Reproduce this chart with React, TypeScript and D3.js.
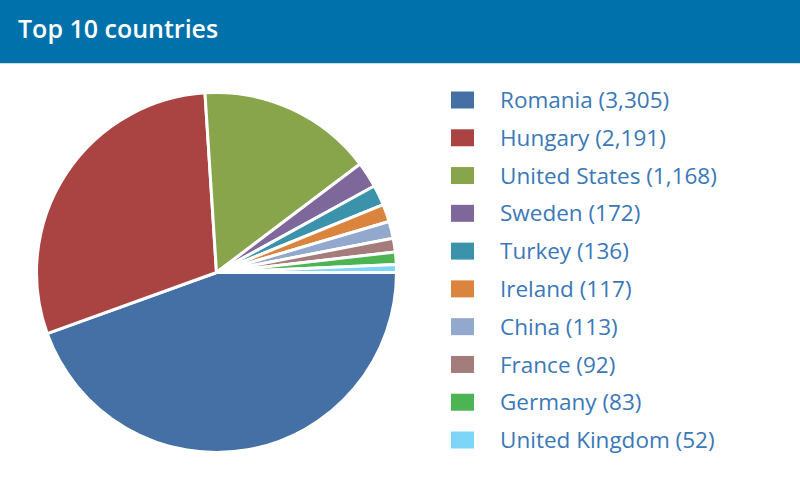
import React from 'react';
import * as d3 from 'd3';

const countries = ['Romania', 'Hungary', 'United States', 'Sweden', 'Turkey', 'Ireland', 'China', 'France', 'Germany', 'United Kingdom'];
const visitors = [3305, 2191, 1168, 172, 136, 117, 113, 92, 83, 52];
const sliceColors = ['#4470a6', '#a94442', '#88a54c', '#7e679b', '#3a93ab', '#db843d', '#92a8cd', '#a37c7b', '#4db453', '#7dd5f8'];

const W = 800;
const H = 504;
const HEADER_H = 63;

interface Slice {
    name: string;
    value: number;
    color: string;
}

const slices: Slice[] = countries.map((name, i) => ({ name, value: visitors[i], color: sliceColors[i] }));

export default function App() {
    const cx = 216.5;
    const cy = 272.5;
    const radius = 180;

    // pie starts at 3 o'clock, runs clockwise, keeps the data order
    const pie = d3.pie<Slice>()
        .value(d => d.value)
        .sort(null)
        .startAngle(Math.PI / 2)
        .endAngle(Math.PI / 2 + 2 * Math.PI);
    const arc = d3.arc<d3.PieArcDatum<Slice>>().innerRadius(0).outerRadius(radius);
    const arcs = pie(slices);

    // legend rows
    const legendY = d3.scalePoint<string>().domain(countries).range([100, 440]);
    const fmt = d3.format(',');

    return (
        <svg width={W} height={H} style={{ position: 'absolute', left: 0, top: 0, background: '#fff' }}>
            <rect x={0} y={0} width={W} height={HEADER_H} fill="#0071aa" />
            <line x1={0} x2={W} y1={HEADER_H + 0.5} y2={HEADER_H + 0.5} stroke="#c9dbe8" strokeWidth={1} />
            <text x={18} y={38} fill="#fff" fontFamily="'Open Sans', sans-serif" fontWeight={600} fontSize={25}>
                Top 10 countries
            </text>

            <g transform={`translate(${cx},${cy})`}>
                {arcs.map(a => (
                    <path key={a.data.name} d={arc(a) ?? ''} fill={a.data.color} stroke="#fff" strokeWidth={3} strokeLinejoin="round" />
                ))}
            </g>

            <g fontFamily="'Open Sans', sans-serif" fontSize={22.5} fill="#3a78b8">
                {slices.map(s => {
                    const y = legendY(s.name) ?? 0;
                    return (
                        <g key={s.name} transform={`translate(0,${y})`}>
                            <rect x={451} y={-8.5} width={23} height={17} fill={s.color} />
                            <text x={500} y={0} dy="0.36em">{`${s.name} (${fmt(s.value)})`}</text>
                        </g>
                    );
                })}
            </g>
        </svg>
    );
}
